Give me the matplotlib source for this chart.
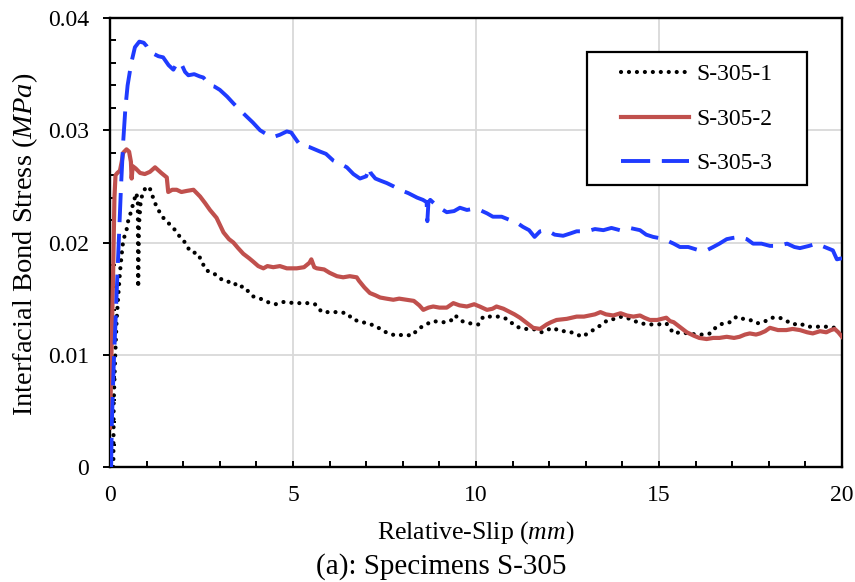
import matplotlib
matplotlib.use("Agg")
import matplotlib.pyplot as plt
from matplotlib.patches import Rectangle
from matplotlib.ticker import MultipleLocator

plt.rcParams["font.family"] = ["Liberation Serif", "DejaVu Serif"]
plt.rcParams["mathtext.fontset"] = "custom"
plt.rcParams["mathtext.rm"] = "Liberation Serif"
plt.rcParams["mathtext.it"] = "Liberation Serif:italic"

# S-305-1 (dotted black)
slip_1 = [0.09, 0.10, 0.14, 0.18, 0.23, 0.27, 0.32, 0.36, 0.45, 0.50,
          0.59, 0.64, 0.72, 0.76, 0.77, 0.79, 0.84, 0.92, 1.00, 1.09,
          1.23, 1.37, 1.50, 1.64, 1.78, 1.91, 2.05, 2.19, 2.41, 2.50,
          2.64, 2.82, 3.00, 3.19, 3.37, 3.50, 3.64, 3.91, 4.19, 4.37,
          4.55, 4.74, 5.05, 5.40, 5.60, 5.79, 6.01, 6.24, 6.47, 6.65,
          6.83, 7.00, 7.24, 7.43, 7.60, 7.83, 8.03, 8.25, 8.42, 8.63,
          8.83, 9.05, 9.20, 9.34, 9.43, 9.61, 9.84, 10.06, 10.20, 10.38,
          10.60, 10.84, 11.10, 11.33, 11.56, 11.80, 11.93, 12.10, 12.30, 12.50,
          12.70, 12.90, 13.10, 13.25, 13.44, 13.60, 13.80, 13.98, 14.20, 14.48,
          14.75, 14.98, 15.20, 15.40, 15.57, 15.80, 16.03, 16.20, 16.40, 16.57,
          16.75, 16.94, 17.12, 17.30, 17.49, 17.67, 17.85, 18.08, 18.30, 18.49,
          18.67, 18.85, 19.03, 19.30, 19.57, 19.76, 19.95]
stress_1 = [0.0, 0.0057, 0.0098, 0.0131, 0.0155, 0.0173, 0.0190, 0.0202, 0.0211, 0.0220,
            0.0229, 0.0236, 0.0244, 0.0236, 0.0160, 0.0215, 0.0238, 0.0246, 0.0250, 0.0248,
            0.0235, 0.0226, 0.0220, 0.0216, 0.0211, 0.0205, 0.0200, 0.0192, 0.0190, 0.0183,
            0.0175, 0.0173, 0.0168, 0.0165, 0.0165, 0.0160, 0.0161, 0.0152, 0.0149, 0.0146,
            0.0145, 0.0147, 0.0146, 0.0146, 0.0145, 0.0138, 0.0138, 0.0138, 0.0137, 0.0131,
            0.0130, 0.0128, 0.0126, 0.0122, 0.0119, 0.0117, 0.0118, 0.0117, 0.0123, 0.0127,
            0.0130, 0.0129, 0.0129, 0.0131, 0.0135, 0.0130, 0.0128, 0.0127, 0.0134, 0.0134,
            0.0134, 0.0132, 0.0125, 0.0123, 0.0123, 0.0120, 0.0122, 0.0124, 0.0121, 0.0121,
            0.0119, 0.0116, 0.0120, 0.0123, 0.0127, 0.0131, 0.0132, 0.0134, 0.0132, 0.0128,
            0.0127, 0.0127, 0.0128, 0.0119, 0.0120, 0.0119, 0.0118, 0.0118, 0.0119, 0.0125,
            0.0128, 0.0129, 0.0134, 0.0132, 0.0131, 0.0128, 0.0129, 0.0133, 0.0133, 0.0130,
            0.0127, 0.0128, 0.0125, 0.0125, 0.0125, 0.0124, 0.0126]

# S-305-2 (solid red)
slip_2 = [0.00, 0.02, 0.05, 0.08, 0.10, 0.12, 0.15, 0.20, 0.27, 0.32,
          0.36, 0.45, 0.52, 0.57, 0.59, 0.62, 0.70, 0.82, 0.95, 1.09,
          1.23, 1.40, 1.55, 1.59, 1.70, 1.82, 1.95, 2.10, 2.28, 2.46,
          2.60, 2.73, 2.91, 3.10, 3.25, 3.37, 3.50, 3.64, 3.80, 3.91,
          4.05, 4.19, 4.30, 4.46, 4.64, 4.83, 5.10, 5.30, 5.45, 5.50,
          5.58, 5.65, 5.85, 6.00, 6.20, 6.37, 6.55, 6.74, 6.80, 6.95,
          7.10, 7.25, 7.38, 7.55, 7.74, 7.90, 8.10, 8.30, 8.45, 8.56,
          8.70, 8.83, 9.00, 9.20, 9.38, 9.55, 9.75, 9.95, 10.10, 10.30,
          10.45, 10.56, 10.75, 10.93, 11.05, 11.20, 11.40, 11.56, 11.75, 11.93,
          12.05, 12.20, 12.48, 12.75, 12.95, 13.10, 13.25, 13.40, 13.55, 13.75,
          13.95, 14.12, 14.30, 14.48, 14.60, 14.75, 14.95, 15.20, 15.30, 15.40,
          15.60, 15.76, 15.95, 16.10, 16.30, 16.48, 16.65, 16.85, 17.05, 17.20,
          17.35, 17.48, 17.65, 17.76, 17.90, 18.03, 18.25, 18.48, 18.65, 18.85,
          19.05, 19.20, 19.40, 19.57, 19.70, 19.80, 19.90, 20.00]
stress_2 = [0.0035, 0.0070, 0.0120, 0.0165, 0.0200, 0.0240, 0.0260, 0.0262, 0.0264, 0.0272,
            0.0280, 0.0283, 0.0281, 0.0272, 0.0257, 0.0268, 0.0266, 0.0262, 0.0261, 0.0263,
            0.0267, 0.0262, 0.0258, 0.0245, 0.0247, 0.0247, 0.0245, 0.0246, 0.0247, 0.0241,
            0.0235, 0.0229, 0.0222, 0.0209, 0.0203, 0.0200, 0.0195, 0.0190, 0.0186, 0.0183,
            0.0179, 0.0177, 0.0179, 0.0178, 0.0179, 0.0177, 0.0177, 0.0178, 0.0182, 0.0185,
            0.0178, 0.0177, 0.0176, 0.0173, 0.0170, 0.0169, 0.0170, 0.0169, 0.0166, 0.0160,
            0.0155, 0.0153, 0.0151, 0.0150, 0.0149, 0.0150, 0.0149, 0.0148, 0.0144, 0.0140,
            0.0142, 0.0143, 0.0142, 0.0142, 0.0146, 0.0144, 0.0143, 0.0145, 0.0143, 0.0140,
            0.0141, 0.0143, 0.0141, 0.0138, 0.0136, 0.0133, 0.0128, 0.0124, 0.0123, 0.0127,
            0.0129, 0.0131, 0.0132, 0.0134, 0.0134, 0.0135, 0.0136, 0.0138, 0.0136, 0.0135,
            0.0137, 0.0135, 0.0134, 0.0135, 0.0133, 0.0131, 0.0131, 0.0133, 0.0130, 0.0129,
            0.0124, 0.0120, 0.0117, 0.0115, 0.0114, 0.0115, 0.0115, 0.0116, 0.0115, 0.0116,
            0.0118, 0.0119, 0.0118, 0.0119, 0.0121, 0.0124, 0.0122, 0.0122, 0.0123, 0.0122,
            0.0120, 0.0119, 0.0121, 0.0120, 0.0122, 0.0123, 0.0120, 0.0116]

# S-305-3 (dashed blue)
slip_3 = [0.03, 0.05, 0.10, 0.15, 0.20, 0.25, 0.30, 0.36, 0.42, 0.48,
          0.58, 0.68, 0.80, 0.92, 1.00, 1.10, 1.20, 1.32, 1.45, 1.60,
          1.73, 1.85, 1.95, 2.05, 2.14, 2.30, 2.45, 2.55, 2.65, 2.73,
          2.85, 3.00, 3.20, 3.37, 3.55, 3.74, 3.90, 4.10, 4.30, 4.46,
          4.64, 4.83, 4.95, 5.10, 5.19, 5.45, 5.74, 5.90, 6.10, 6.30,
          6.47, 6.65, 6.83, 7.00, 7.08, 7.12, 7.25, 7.40, 7.56, 7.75,
          7.92, 8.15, 8.39, 8.55, 8.65, 8.67, 8.70, 8.75, 8.95, 9.20,
          9.40, 9.56, 9.75, 9.93, 10.10, 10.30, 10.46, 10.70, 10.93, 11.10,
          11.28, 11.45, 11.60, 11.75, 11.93, 12.15, 12.38, 12.57, 12.75, 13.03,
          13.25, 13.48, 13.70, 13.93, 14.20, 14.48, 14.65, 14.84, 15.00, 15.20,
          15.40, 15.57, 15.80, 16.10, 16.30, 16.48, 16.65, 16.85, 17.00, 17.20,
          17.40, 17.57, 17.80, 18.03, 18.25, 18.50, 18.70, 18.85, 19.10, 19.30,
          19.45, 19.60, 19.75, 19.86, 20.00]
stress_3 = [0.0, 0.0040, 0.0090, 0.0130, 0.0170, 0.0210, 0.0250, 0.0290, 0.0320, 0.0340,
            0.0360, 0.0374, 0.0379, 0.0378, 0.0375, 0.0369, 0.0368, 0.0366, 0.0365, 0.0358,
            0.0354, 0.0361, 0.0359, 0.0352, 0.0349, 0.0350, 0.0348, 0.0347, 0.0343, 0.0340,
            0.0339, 0.0336, 0.0330, 0.0324, 0.0318, 0.0312, 0.0307, 0.0300, 0.0296, 0.0294,
            0.0296, 0.0299, 0.0298, 0.0291, 0.0287, 0.0285, 0.0281, 0.0279, 0.0273, 0.0270,
            0.0267, 0.0261, 0.0257, 0.0259, 0.0267, 0.0262, 0.0257, 0.0255, 0.0253, 0.0250,
            0.0247, 0.0244, 0.0240, 0.0238, 0.0236, 0.0219, 0.0236, 0.0238, 0.0232, 0.0227,
            0.0228, 0.0231, 0.0229, 0.0230, 0.0229, 0.0226, 0.0223, 0.0223, 0.0220, 0.0218,
            0.0214, 0.0211, 0.0205, 0.0210, 0.0211, 0.0207, 0.0206, 0.0208, 0.0210, 0.0210,
            0.0212, 0.0211, 0.0213, 0.0211, 0.0213, 0.0211, 0.0207, 0.0205, 0.0204, 0.0202,
            0.0199, 0.0196, 0.0196, 0.0193, 0.0193, 0.0196, 0.0199, 0.0203, 0.0204, 0.0205,
            0.0203, 0.0199, 0.0199, 0.0197, 0.0197, 0.0199, 0.0196, 0.0195, 0.0197, 0.0199,
            0.0197, 0.0195, 0.0193, 0.0185, 0.0186]

labels = ["S-305-1", "S-305-2", "S-305-3"]
x_ticks = [0, 5, 10, 15, 20]
y_ticks = [0, 0.01, 0.02, 0.03, 0.04]
y_tick_labels = ["0", "0.01", "0.02", "0.03", "0.04"]

fig = plt.figure(figsize=(8.55, 5.82), dpi=100)
ax = fig.add_axes([0.1287, 0.1976, 0.8561, 0.7714])

ax.plot(slip_1, stress_1, color="black", lw=3.0, linestyle=(0, (0.01, 1.9)),
        dash_capstyle="round", label=labels[0], zorder=3)
ax.plot(slip_2, stress_2, color="#C0504D", lw=3.0, label=labels[1], zorder=3)
ax.plot(slip_3, stress_3, color="#1F3BFF", lw=2.8, linestyle=(0, (7.5, 3.0)),
        label=labels[2], zorder=4)

ax.set_xlim(0, 20)
ax.set_ylim(0, 0.04)
ax.set_xticks(x_ticks)
ax.set_xticklabels([str(v) for v in x_ticks])
ax.set_yticks(y_ticks)
ax.set_yticklabels(y_tick_labels)
ax.xaxis.set_minor_locator(MultipleLocator(1))
ax.yaxis.set_minor_locator(MultipleLocator(0.002))

ax.grid(True, which="major", color="#D9D9D9", lw=1.3, zorder=0)
ax.set_axisbelow(True)
for s in ax.spines.values():
    s.set_linewidth(1.7)
    s.set_color("black")

ax.tick_params(axis="x", which="both", direction="in", length=4, width=1.4,
               labelsize=17, pad=13)
ax.tick_params(axis="y", which="major", direction="out", length=5, width=1.4,
               labelsize=17, pad=10)
ax.tick_params(axis="y", which="minor", direction="in", length=4, width=1.4)

ax.set_xlabel(r"Relative-Slip $\mathit{(mm)}$", fontsize=18.5)
ax.xaxis.set_label_coords(0.5, -0.117)
ax.set_ylabel(r"Interfacial Bond Stress $\mathit{(MPa)}$", fontsize=20.5)
ax.yaxis.set_label_coords(-0.096, 0.496)
fig.text(0.516, 0.027, "(a): Specimens S-305", fontsize=21, ha="center", va="center")

# legend entries without frame, frame drawn as a box like Excel does
leg = ax.legend(loc="upper left", bbox_to_anchor=(0.698, 0.898), fontsize=17,
                frameon=False, borderpad=0, borderaxespad=0,
                handlelength=2.9, labelspacing=0.97, handletextpad=0.3)
ax.add_patch(Rectangle((0.6516, 0.628), 0.3004, 0.2963, transform=ax.transAxes,
                       facecolor="white", edgecolor="black", lw=1.6, zorder=5))
leg.set_zorder(6)

fig.savefig("out.png", dpi=100)
